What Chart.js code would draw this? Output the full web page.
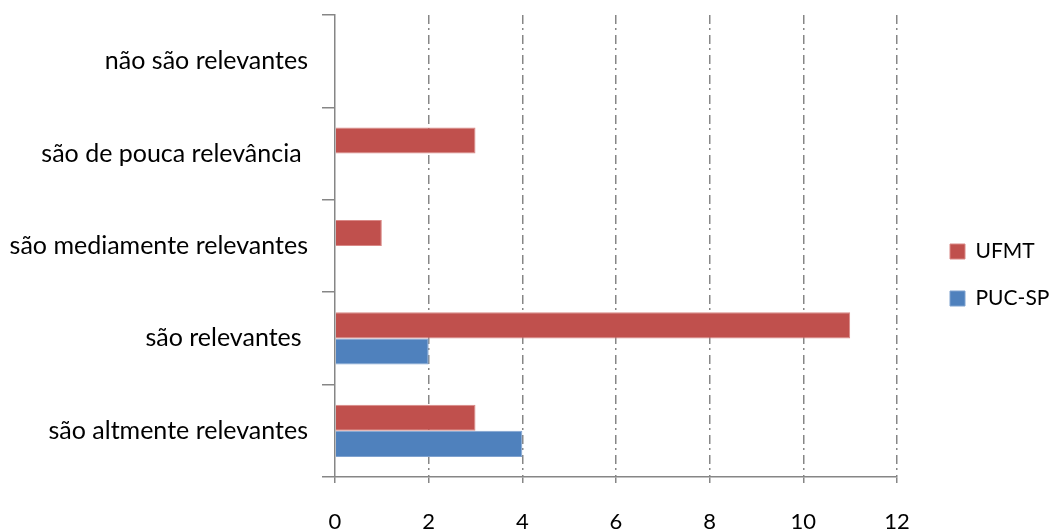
<!DOCTYPE html>
<html>
<head>
<meta charset="utf-8">
<script src="https://cdn.jsdelivr.net/npm/chart.js@4/dist/chart.umd.min.js"></script>
<style>
  html, body { margin: 0; padding: 0; background: #fff; }
  #wrap { width: 1052px; height: 529px; }
</style>
</head>
<body>
<div id="wrap"><canvas id="relevanceChart"></canvas></div>
<script>
var categories = ['não são relevantes', 'são de pouca relevância ', 'são mediamente relevantes', 'são relevantes ', 'são altmente relevantes'];
var ufmtValues = [0, 3, 1, 11, 3];
var pucValues = [0, 0, 0, 2, 4];
var xTicks = [0, 2, 4, 6, 8, 10, 12];

var gray = '#868686';
var family = 'Lato, "Open Sans", sans-serif';

// keep the legend column at a fixed width and push its entries right,
// like the Excel original (wide gap between plot and legend)
var legendPlacement = {
    id: 'legendPlacement',
    beforeLayout: function (chart) {
        var lg = chart.legend;
        if (lg && !lg._fixedFit) {
            var fit = lg.fit;
            lg.fit = function () {
                fit.call(this);
                this.width = 155;
            };
            lg._fixedFit = true;
        }
    },
    afterLayout: function (chart) {
        var lg = chart.legend;
        var shift = chart.chartArea.right + 53 - (lg.left + lg.options.labels.padding);
        lg.left += shift;
        lg.right += shift;
        lg.top += 3;
        lg.bottom += 3;
    }
};

var ctx = document.getElementById('relevanceChart').getContext('2d');
new Chart(ctx, {
    type: 'bar',
    data: {
        labels: categories,
        datasets: [{
            label: 'UFMT',
            data: ufmtValues,
            backgroundColor: '#C0504D',
            borderColor: '#D98886',
            borderWidth: 1,
            barPercentage: 1,
            categoryPercentage: 0.565
        }, {
            label: 'PUC-SP',
            data: pucValues,
            backgroundColor: '#4F81BD',
            borderColor: '#7FA2CF',
            borderWidth: 1,
            barPercentage: 1,
            categoryPercentage: 0.565
        }]
    },
    plugins: [legendPlacement],
    options: {
        indexAxis: 'y',
        responsive: true,
        maintainAspectRatio: false,
        animation: false,
        layout: { padding: { top: 15, right: 0, bottom: 0, left: 0 } },
        plugins: {
            tooltip: { enabled: false },
            legend: {
                position: 'right',
                labels: {
                    color: '#000',
                    font: { family: family, size: 21 },
                    boxWidth: 15,
                    boxHeight: 15,
                    padding: 26
                }
            }
        },
        scales: {
            x: {
                min: 0,
                max: 12,
                afterBuildTicks: function (scale) {
                    scale.ticks = xTicks.map(function (v) { return { value: v }; });
                },
                afterFit: function (scale) { scale.height = 52; },
                border: { color: gray, width: 1.5, dash: [9, 4, 2, 5] },
                grid: {
                    color: function (c) { return c.tick && c.tick.value === 0 ? 'rgba(0,0,0,0)' : gray; },
                    lineWidth: 1.5,
                    tickColor: gray,
                    tickLength: 6,
                    tickBorderDash: []
                },
                ticks: { color: '#000', font: { family: family, size: 22 }, padding: 26, maxRotation: 0 }
            },
            y: {
                afterFit: function (scale) {
                    scale.width = 335;
                    scale.paddingTop = 0;
                    scale.paddingBottom = 0;
                },
                border: { color: gray, width: 1.5 },
                grid: {
                    offset: true,
                    drawOnChartArea: false,
                    color: gray,
                    lineWidth: 1.5,
                    tickLength: 13
                },
                ticks: { color: '#000', font: { family: family, size: 25 }, padding: 14 }
            }
        }
    }
});
</script>
</body>
</html>
